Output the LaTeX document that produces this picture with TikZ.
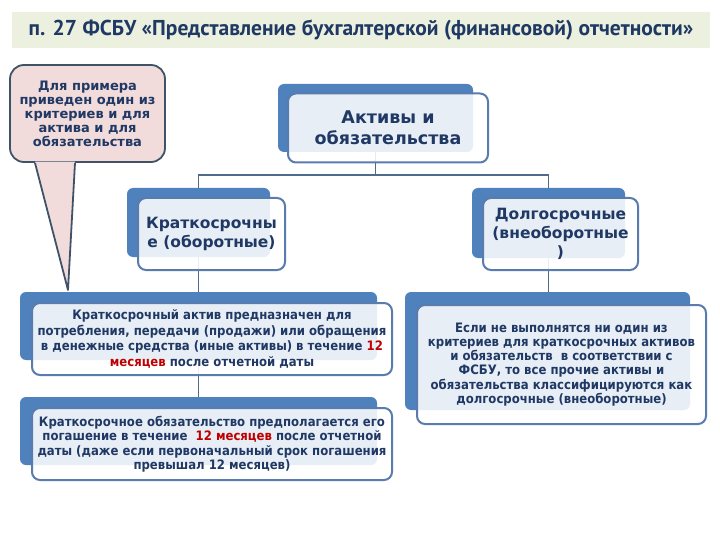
\documentclass[tikz,border=0pt]{standalone}
\usepackage{fontspec}
\setmainfont{DejaVu Sans}
\newfontfamily\titlefont{PT Sans}
\newfontfamily\condfont{DejaVu Sans Condensed}
\usetikzlibrary{positioning}
\definecolor{navy}{HTML}{1F3864}
\definecolor{backblue}{HTML}{4F81BD}
\definecolor{frameblue}{HTML}{5A7BAE}
\definecolor{linegray}{HTML}{4E6B8C}
\definecolor{notepink}{HTML}{F2DCDB}
\definecolor{noteframe}{HTML}{3F5368}
\definecolor{titlegreen}{HTML}{EBF1DE}
\definecolor{mred}{HTML}{C00000}
\begin{document}
\begin{tikzpicture}[x=1pt,y=-1pt,
  backbox/.style={fill=backblue, rounded corners=6pt, inner sep=0pt},
  frontbox/.style={draw=frameblue, line width=2pt, fill=white, fill opacity=0.87, text opacity=1,
    rounded corners=8pt, align=center, text=navy, inner sep=0pt},
  conn/.style={draw=linegray, line width=1.5pt},
  notebox/.style={draw=noteframe, line width=1.8pt, fill=notepink, rounded corners=14pt,
    align=center, text=navy, inner sep=0pt, minimum width=155pt, minimum height=97pt}]
\useasboundingbox (0,0) rectangle (720,540);
% title
\node[fill=titlegreen, minimum width=698pt, minimum height=36pt, inner sep=0pt, text=navy,
  font=\titlefont\bfseries\fontsize{21.5}{24}\selectfont] (title) at (361,30)
  {п. 27 ФСБУ «Представление бухгалтерской (финансовой) отчетности»};
% back boxes
\node[backbox, minimum width=195pt, minimum height=68pt] (b-top) at (375.5,118) {};
\node[backbox, minimum width=143pt, minimum height=69pt] (b-left) at (198.5,222.5) {};
\node[backbox, minimum width=153pt, minimum height=70pt] (b-right) at (548.5,223) {};
\node[backbox, minimum width=357pt, minimum height=68pt] (b-box1) at (198.5,326) {};
\node[backbox, minimum width=357pt, minimum height=68pt] (b-box2) at (198.5,431) {};
\node[backbox, minimum width=285pt, minimum height=118pt] (b-rbox) at (547.5,351) {};
% connectors
\draw[conn] (b-top.south) -- ++(0,23) coordinate (bar) -| (b-left.north);
\draw[conn] (bar) -| (b-right.north);
\draw[conn] (b-left.south) -- (b-box1.north);
\draw[conn] (b-right.south) -- (b-right.south |- b-rbox.north);
\draw[conn] (b-box1.south) -- (b-box2.north);
% front boxes
\node[frontbox, minimum width=200pt, minimum height=69pt, font=\bfseries\fontsize{17.5}{21}\selectfont]
  (top) at ([shift={(12.5,10)}]b-top.center) {Активы и\\обязательства};
\node[frontbox, minimum width=147pt, minimum height=72pt, font=\bfseries\fontsize{15.5}{19}\selectfont]
  (left) at ([shift={(13,11.5)}]b-left.center) {Краткосрочны\\е (оборотные)};
\node[frontbox, minimum width=155pt, minimum height=72pt, font=\bfseries\fontsize{15.5}{19}\selectfont]
  (right) at ([shift={(12,11)}]b-right.center) {Долгосрочные\\(внеоборотные\\)};
\node[frontbox, minimum width=360pt, minimum height=72pt, font=\condfont\bfseries\fontsize{13}{15.5}\selectfont]
  (box1) at ([shift={(13.5,13)}]b-box1.center)
  {Краткосрочный актив предназначен для\\потребления, передачи (продажи) или обращения\\в денежные средства (иные активы) в течение \textcolor{mred}{12}\\\textcolor{mred}{месяцев} после отчетной даты};
\node[frontbox, minimum width=360pt, minimum height=72pt, font=\condfont\bfseries\fontsize{13}{14.5}\selectfont]
  (box2) at ([shift={(13.5,13)}]b-box2.center)
  {Краткосрочное обязательство предполагается его\\погашение в течение \ \textcolor{mred}{12 месяцев} после отчетной\\даты (даже если первоначальный срок погашения\\превышал 12 месяцев)};
\node[frontbox, minimum width=289pt, minimum height=119pt, font=\condfont\bfseries\fontsize{13}{14.2}\selectfont]
  (rbox) at ([shift={(14,13.5)}]b-rbox.center)
  {Если не выполнятся ни один из\\критериев для краткосрочных активов\\и обязательств \ в соответствии с\\ФСБУ, то все прочие активы и\\обязательства классифицируются как\\долгосрочные (внеоборотные)};
% note with pointer
\node[notebox, font=\bfseries\fontsize{13}{14}\selectfont] (note) at (87.5,113.5)
  {Для примера\\приведен один из\\критериев и для\\актива и для\\обязательства};
\coordinate (tip) at (68,290);
\fill[notepink] ([shift={(-52.5pt,1.2pt)}]note.south) -- (tip) -- ([shift={(-12.5pt,1.2pt)}]note.south) -- cycle;
\draw[noteframe, line width=1.8pt, line join=round] ([xshift=-52.5pt]note.south) -- (tip) -- ([xshift=-12.5pt]note.south);
\end{tikzpicture}
\end{document}
